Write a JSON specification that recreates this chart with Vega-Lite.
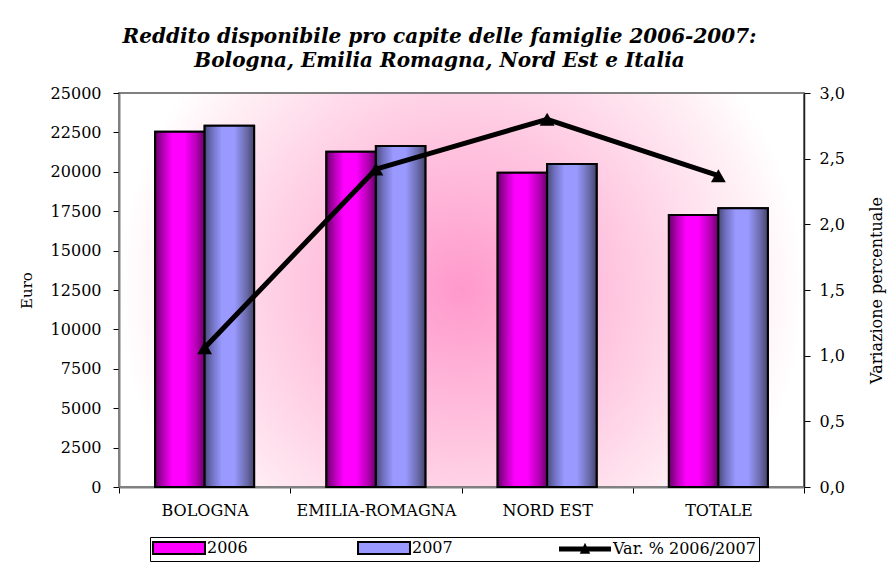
{
  "$schema": "https://vega.github.io/schema/vega-lite/v6.json",
  "width": 685,
  "height": 394,
  "autosize": {"type": "none"},
  "padding": {"left": 119, "top": 93, "right": 89, "bottom": 78},
  "background": "white",
  "title": {
    "text": ["Reddito disponibile pro capite delle famiglie 2006-2007:", "Bologna, Emilia Romagna, Nord Est e Italia"],
    "font": "DejaVu Serif",
    "fontSize": 20,
    "fontStyle": "italic",
    "fontWeight": "bold",
    "color": "black",
    "lineHeight": 24,
    "offset": 14,
    "dx": -22,
    "anchor": "middle"
  },
  "config": {
    "view": {
      "stroke": "#808080",
      "strokeWidth": 2,
      "fill": {
        "gradient": "radial",
        "x1": 0.5, "y1": 0.5, "r1": 0,
        "x2": 0.5, "y2": 0.5, "r2": 0.5,
        "stops": [
          {"offset": 0, "color": "#FF99CC"},
          {"offset": 0.45, "color": "#FFC6E0"},
          {"offset": 0.8, "color": "#FFEAF2"},
          {"offset": 1, "color": "#FFFFFF"}
        ]
      }
    },
    "axis": {
      "labelFont": "DejaVu Serif",
      "labelFontSize": 16,
      "labelColor": "black",
      "titleFont": "DejaVu Serif",
      "titleFontSize": 15,
      "titleFontWeight": "normal",
      "titleColor": "black",
      "domainColor": "#404040",
      "domainWidth": 1.5,
      "tickColor": "black",
      "tickSize": 6,
      "grid": false
    },
    "legend": {
      "labelFont": "DejaVu Serif",
      "labelFontSize": 16,
      "labelColor": "black"
    }
  },
  "datasets": {
    "bars": [
      {"cat": "BOLOGNA", "year": "2006", "value": 22540},
      {"cat": "BOLOGNA", "year": "2007", "value": 22920},
      {"cat": "EMILIA-ROMAGNA", "year": "2006", "value": 21270},
      {"cat": "EMILIA-ROMAGNA", "year": "2007", "value": 21640},
      {"cat": "NORD EST", "year": "2006", "value": 19940},
      {"cat": "NORD EST", "year": "2007", "value": 20490},
      {"cat": "TOTALE", "year": "2006", "value": 17260},
      {"cat": "TOTALE", "year": "2007", "value": 17680}
    ],
    "var": [
      {"cat": "BOLOGNA", "serie": "Var. % 2006/2007", "var": 1.06},
      {"cat": "EMILIA-ROMAGNA", "serie": "Var. % 2006/2007", "var": 2.42},
      {"cat": "NORD EST", "serie": "Var. % 2006/2007", "var": 2.8},
      {"cat": "TOTALE", "serie": "Var. % 2006/2007", "var": 2.37}
    ]
  },
  "layer": [
    {
      "data": {"name": "bars"},
      "encoding": {
        "x": {
          "field": "cat", "type": "nominal",
          "sort": ["BOLOGNA", "EMILIA-ROMAGNA", "NORD EST", "TOTALE"],
          "scale": {"paddingInner": 0, "paddingOuter": 0},
          "axis": {"title": null, "labelAngle": 0, "tickBand": "extent", "labelPadding": 9, "labelFontSize": 16, "domainColor": "#808080", "domainWidth": 2}
        },
        "xOffset": {"field": "year", "type": "nominal", "scale": {"paddingOuter": 0.73, "paddingInner": 0}},
        "y": {
          "field": "value", "type": "quantitative",
          "scale": {"domain": [0, 25000], "nice": false},
          "axis": {"title": "Euro", "values": [0, 2500, 5000, 7500, 10000, 12500, 15000, 17500, 20000, 22500, 25000], "format": "d", "labelPadding": 12, "titlePadding": 16, "domainColor": "#808080", "domainWidth": 2}
        }
      },
      "layer": [
        {
          "mark": {"type": "bar", "stroke": "black", "strokeWidth": 2},
          "encoding": {
            "color": {
              "field": "year", "type": "nominal",
              "scale": {"domain": ["2006", "2007", "Var. % 2006/2007"], "range": ["#FF00FF", "#9999FF", "black"]},
              "legend": {
                "title": null,
                "orient": "none",
                "legendX": 31,
                "legendY": 444,
                "direction": "horizontal",
                "padding": 3,
                "strokeColor": "black",
                "fillColor": "white",
                "columnPadding": 106,
                "symbolType": "M-1,-0.23H1V0.23H-1Z",
                "symbolSize": 2700,
                "symbolOffset": 18,
                "symbolStrokeColor": "black",
                "symbolStrokeWidth": 1.5,
                "labelOffset": 20,
                "labelLimit": 300,
                "encode": {
                  "symbols": {
                    "update": {
                      "shape": {"signal": "datum.value === 'Var. % 2006/2007' ? 'M-1,-0.1H1V0.1H-1Z M-0.2,0.18L0,-0.24L0.2,0.18Z' : 'M-1,-0.23H1V0.23H-1Z'"},
                      "strokeWidth": {"signal": "datum.value === 'Var. % 2006/2007' ? 0 : 2"}
                    }
                  }
                }
              }
            }
          }
        },
        {
          "transform": [{"filter": "datum.year === '2006'"}],
          "mark": {"type": "bar", "stroke": "black", "strokeWidth": 2, "fill": {"gradient": "linear", "x1": 0, "y1": 0, "x2": 1, "y2": 0, "stops": [
            {"offset": 0, "color": "#660066"},
            {"offset": 0.15, "color": "#B000B0"},
            {"offset": 0.35, "color": "#FF00FF"},
            {"offset": 0.6, "color": "#FF00FF"},
            {"offset": 0.85, "color": "#B000B0"},
            {"offset": 1, "color": "#660066"}
          ]}}
        },
        {
          "transform": [{"filter": "datum.year === '2007'"}],
          "mark": {"type": "bar", "stroke": "black", "strokeWidth": 2, "fill": {"gradient": "linear", "x1": 0, "y1": 0, "x2": 1, "y2": 0, "stops": [
            {"offset": 0, "color": "#4A4A7A"},
            {"offset": 0.15, "color": "#7070C0"},
            {"offset": 0.35, "color": "#9999FF"},
            {"offset": 0.6, "color": "#9999FF"},
            {"offset": 0.85, "color": "#6A6AAA"},
            {"offset": 1, "color": "#44446E"}
          ]}}
        }
      ]
    },
    {
      "data": {"name": "var"},
      "encoding": {
        "x": {"field": "cat", "type": "nominal", "sort": ["BOLOGNA", "EMILIA-ROMAGNA", "NORD EST", "TOTALE"]},
        "y": {
          "field": "var", "type": "quantitative",
          "scale": {"domain": [0, 3], "nice": false},
          "axis": {"orient": "right", "title": "Variazione percentuale", "titleFontSize": 16, "titleAngle": 270, "values": [0, 0.5, 1, 1.5, 2, 2.5, 3], "labelExpr": "replace(format(datum.value, '.1f'), '.', ',')", "labelPadding": 9, "titlePadding": 40, "domainColor": "#202020"}
        }
      },
      "layer": [
        {
          "mark": {"type": "line", "color": "black", "strokeWidth": 5}
        },
        {
          "mark": {"type": "point", "shape": "triangle-up", "filled": true, "color": "black", "size": 220, "opacity": 1}
        }
      ]
    }
  ],
  "resolve": {"scale": {"y": "independent"}}
}
